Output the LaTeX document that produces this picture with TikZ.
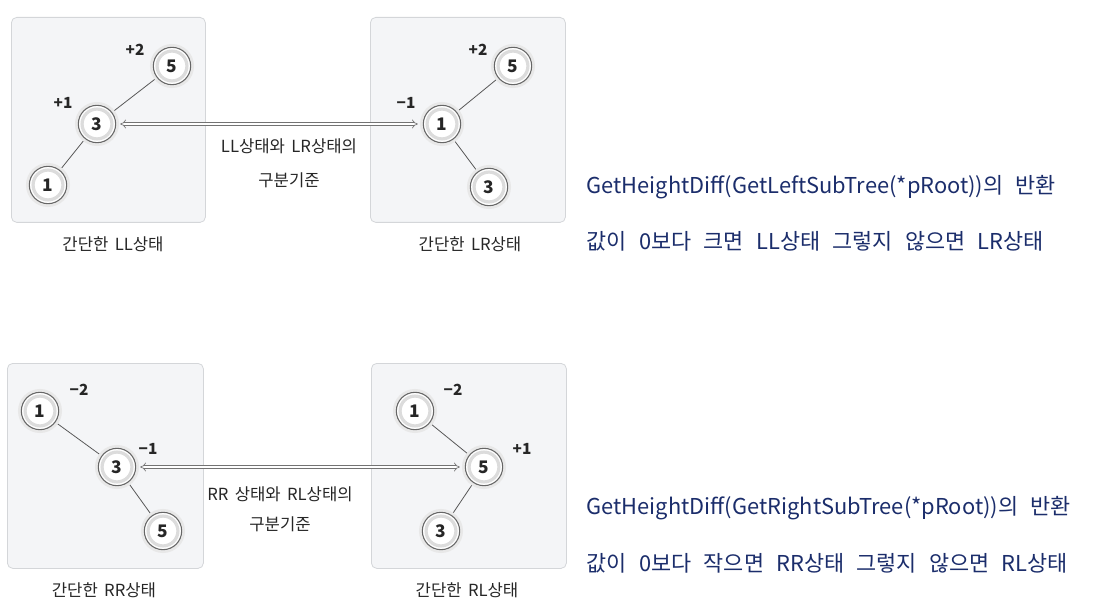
\documentclass[tikz,border=0pt]{standalone}
\usepackage{fontspec}
\setmainfont[WordSpace=1.7]{Noto Sans CJK KR}
\newfontfamily\notefont[WordSpace=2.5]{Noto Sans CJK KR}
\usetikzlibrary{arrows.meta,calc}
\definecolor{boxfill}{HTML}{F4F5F7}
\definecolor{boxline}{HTML}{D4D6D9}
\definecolor{navy}{HTML}{1B2D6B}
\definecolor{ringgray}{HTML}{DCDCDC}
\begin{document}
\begin{tikzpicture}[x=0.75pt,y=-0.75pt,
  panel/.style={draw=boxline, fill=boxfill, rounded corners=4pt, line width=0.6pt},
  tnode/.style={circle, minimum size=28pt, inner sep=0pt, fill=white, draw=black!60, line width=0.8pt,
    font=\fontsize{13}{15}\selectfont\bfseries, text=black!85,
    preaction={draw=black!9, line width=5pt},
    path picture={\draw[ringgray, line width=2.4pt] (path picture bounding box.center) circle (11.2pt);}},
  bal/.style={font=\fontsize{11.5}{13}\selectfont\bfseries, text=black!85},
  captxt/.style={font=\fontsize{12.5}{14}\selectfont, text=black!85},
  note/.style={font=\notefont\fontsize{16.4}{18}\selectfont, text=navy, anchor=west},
  edge/.style={draw=black!65, line width=0.6pt},
  dbl/.style={draw=black!55, double=white, double distance=1.8pt, line width=0.5pt, {Implies[length=4pt]}-{Implies[length=4pt]}}
]
\useasboundingbox (0,0) rectangle (1100,606);
% panels
\node[panel, minimum width=145.5pt, minimum height=153.75pt, anchor=north west] (p1) at (11,17) {};
\node[panel, minimum width=146.25pt, minimum height=153.75pt, anchor=north west] (p2) at (370,17) {};
\node[panel, minimum width=147pt, minimum height=153.75pt, anchor=north west] (p3) at (7,363) {};
\node[panel, minimum width=146.25pt, minimum height=153.75pt, anchor=north west] (p4) at (371,363) {};

% tree 1 (LL)
\coordinate (a5) at (172,66);
\coordinate (a3) at (97,124);
\coordinate (a1) at (48,185);
\draw[edge] (a5) -- (a3) -- (a1);
\node[tnode] (n15) at (a5) {5};
\node[tnode] (n13) at (a3) {3};
\node[tnode] (n11) at (a1) {1};
\node[bal] (b15) at (135,50) {+2};
\node[bal] (b13) at (63,103) {+1};
\node[captxt] (c1) at (113,244) {간단한 LL상태};

% tree 2 (LR)
\coordinate (b5) at (513,66);
\coordinate (b1) at (442,124);
\coordinate (b3) at (489,187);
\draw[edge] (b5) -- (b1) -- (b3);
\node[tnode] (n25) at (b5) {5};
\node[tnode] (n21) at (b1) {1};
\node[tnode] (n23) at (b3) {3};
\node[bal] (b25) at (478,50) {+2};
\node[bal] (b21) at (406,103) {−1};
\node[captxt] (c2) at (470,244) {간단한 LR상태};

\draw[dbl] ($(n13.east)+(4,0)$) -- ($(n21.west)+(-5,0)$);
\node[captxt] (t1) at (289,146) {LL상태와 LR상태의};
\node[captxt] (t2) at (289,180) {구분기준};

% tree 3 (RR)
\coordinate (c1p) at (40,411);
\coordinate (c3p) at (117,467);
\coordinate (c5p) at (163,531);
\draw[edge] (c1p) -- (c3p) -- (c5p);
\node[tnode] (n31) at (c1p) {1};
\node[tnode] (n33) at (c3p) {3};
\node[tnode] (n35) at (c5p) {5};
\node[bal] (b31) at (79,390) {−2};
\node[bal] (b33) at (148,449) {−1};
\node[captxt] (c3) at (104,590) {간단한 RR상태};

% tree 4 (RL)
\coordinate (d1p) at (415,411);
\coordinate (d5p) at (484,467);
\coordinate (d3p) at (441,531);
\draw[edge] (d1p) -- (d5p) -- (d3p);
\node[tnode] (n41) at (d1p) {1};
\node[tnode] (n45) at (d5p) {5};
\node[tnode] (n43) at (d3p) {3};
\node[bal] (b41) at (453,390) {−2};
\node[bal] (b45) at (522,449) {+1};
\node[captxt] (c4) at (467,590) {간단한 RL상태};

\draw[dbl] ($(n33.east)+(4,0)$) -- ($(n45.west)+(-5,0)$);
\node[captxt] (t3) at (280,494) {RR 상태와 RL상태의};
\node[captxt] (t4) at (280,524) {구분기준};

% notes
\node[note] (m1) at (582,187) {GetHeightDiff(GetLeftSubTree(*pRoot))의 반환};
\node[note] (m2) at (582,241) {값이 0보다 크면 LL상태 그렇지 않으면 LR상태};
\node[note] (m3) at (582,508) {GetHeightDiff(GetRightSubTree(*pRoot))의 반환};
\node[note] (m4) at (582,563) {값이 0보다 작으면 RR상태 그렇지 않으면 RL상태};
\end{tikzpicture}
\end{document}
